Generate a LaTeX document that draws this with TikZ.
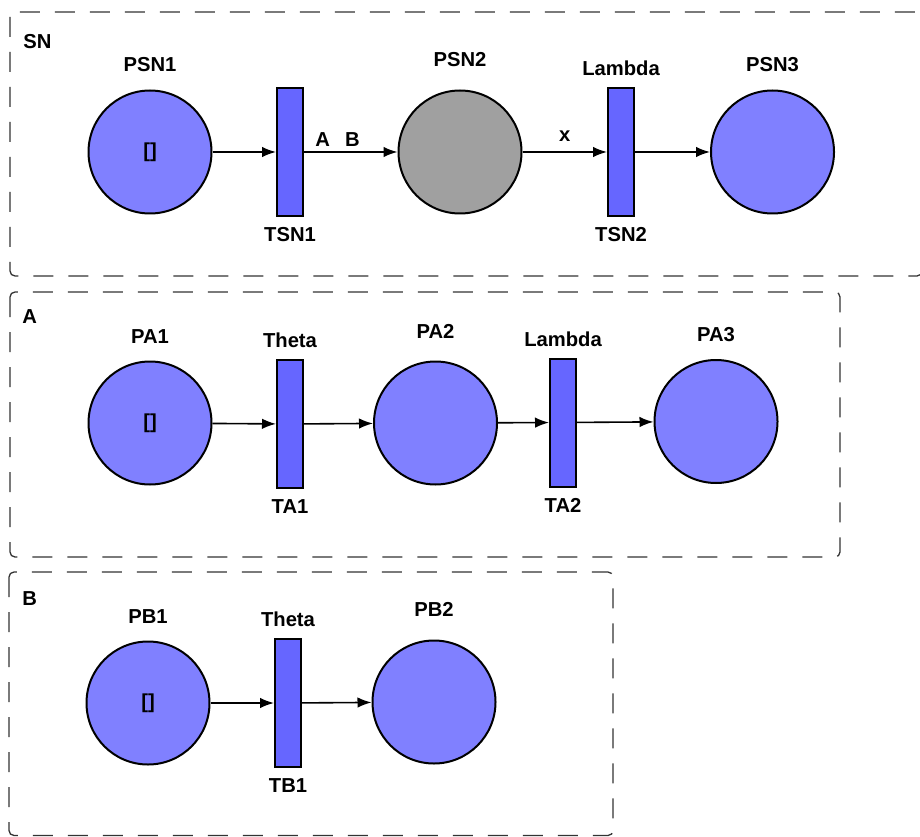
\documentclass[tikz,border=0pt]{standalone}
\usepackage{fontspec}
\setmainfont{Liberation Sans}
\usepackage{tikz}
\usetikzlibrary{arrows.meta}
\definecolor{placeblue}{HTML}{8080FF}
\definecolor{transblue}{HTML}{6666FF}
\definecolor{busygray}{HTML}{A0A0A0}

\begin{document}
\begin{tikzpicture}[
  every node/.style={font=\bfseries\fontsize{11.5}{13}\selectfont},
  every label/.style={inner sep=0pt},
  label distance=0.21cm,
  place/.style={circle, draw, line width=0.04cm, fill=placeblue, minimum size=2.46cm, inner sep=0pt},
  trans/.style={rectangle, draw, line width=0.04cm, fill=transblue, minimum width=0.52cm, minimum height=2.56cm, inner sep=0pt},
  pname/.style={label={[label distance=0.34cm]above:#1}},
  arr/.style={-{Latex[length=2.8mm, width=2.1mm]}, line width=0.032cm},
  group/.style={draw=black!80, dash pattern=on 0.4cm off 0.3cm, line width=0.026cm, rounded corners=0.1cm},
  tag/.style={anchor=base west, inner sep=0pt}
]
\useasboundingbox (0,0) rectangle (18.4,-16.72);

\draw[group] (0.2,-0.24) rectangle (18.44,-5.52);
\draw[group] (0.2,-5.84) rectangle (16.8,-11.14);
\draw[group] (0.18,-11.44) rectangle (12.26,-16.71);

\node[tag] (SN) at (0.46,-0.98) {SN};
\node[place, pname=PSN1] (PSN1) at (3.0,-3.04) {[]};
\node[trans, label=below:TSN1] (TSN1) at (5.8,-3.04) {};
\node[place, fill=busygray, label={[label distance=0.45cm]above:PSN2}] (PSN2) at (9.2,-3.04) {};
\node[trans, label=above:Lambda, label=below:TSN2] (TSN2) at (12.42,-3.04) {};
\node[place, pname=PSN3] (PSN3) at (15.45,-3.04) {};
\draw[arr] (PSN1) -- (TSN1);
\draw[arr] (TSN1) -- node[pos=0.36, above=0.1cm, inner sep=0pt] (AB) {A\hspace{0.75em}B} (PSN2);
\draw[arr] (PSN2) -- node[above=0.2cm, inner sep=0pt] (x) {x} (TSN2);
\draw[arr] (TSN2) -- (PSN3);

\node[tag] (A) at (0.44,-6.46) {A};
\node[place, pname=PA1] (PA1) at (3.0,-8.46) {[]};
\node[trans, label=above:Theta, label=below:TA1] (TA1) at (5.8,-8.48) {};
\node[place, label={[label distance=0.44cm]above:PA2}] (PA2) at (8.71,-8.46) {};
\node[trans, label=above:Lambda, label=below:TA2] (TA2) at (11.26,-8.45) {};
\node[place, pname=PA3] (PA3) at (14.32,-8.43) {};
\draw[arr] (PA1) -- (TA1);
\draw[arr] (TA1) -- (PA2);
\draw[arr] (PA2) -- (TA2);
\draw[arr] (TA2) -- (PA3);

\node[tag] (B) at (0.44,-12.1) {B};
\node[place, pname=PB1] (PB1) at (2.96,-14.06) {[]};
\node[trans, label=above:Theta, label=below:TB1] (TB1) at (5.76,-14.06) {};
\node[place, label={[label distance=0.46cm]above:PB2}] (PB2) at (8.68,-14.04) {};
\draw[arr] (PB1) -- (TB1);
\draw[arr] (TB1) -- (PB2);
\end{tikzpicture}
\end{document}
